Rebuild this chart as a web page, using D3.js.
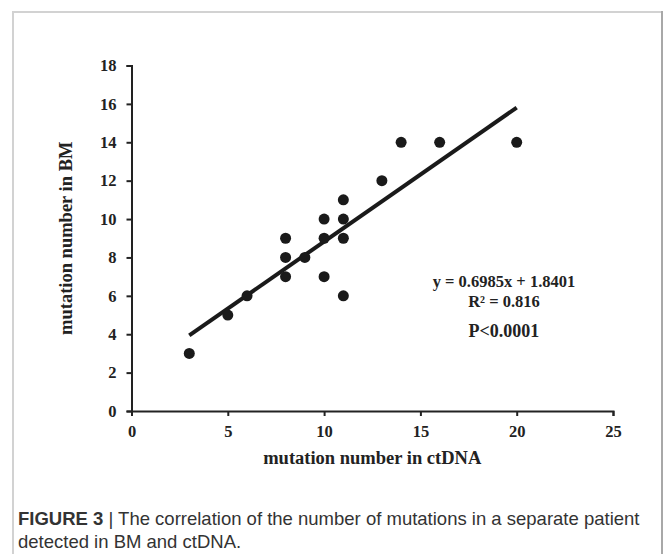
<!DOCTYPE html>
<html lang="en">
<head>
<meta charset="UTF-8">
<title>Mutation correlation</title>
<script src="https://d3js.org/d3.v7.min.js"></script>
<style>
  body { margin: 0; background: #fff; }
</style>
</head>
<body>
<div id="my_dataviz"></div>
<script>
// data
var ctDNA = [3, 5, 6, 8, 8, 8, 9, 10, 10, 10, 11, 11, 11, 11, 13, 14, 16, 20];
var bm    = [3, 5, 6, 7, 8, 9, 8, 7, 9, 10, 6, 9, 10, 11, 12, 14, 14, 14];
var xTicks = [0, 5, 10, 15, 20, 25];
var yTicks = [0, 2, 4, 6, 8, 10, 12, 14, 16, 18];
var slope = 0.6985, intercept = 1.8401;
var fitLabels = ["y = 0.6985x + 1.8401", "R\u00b2 = 0.816"];
var pLabel = "P<0.0001";
var captionLines = [
  ["FIGURE 3", " | The correlation of the number of mutations in a separate patient"],
  ["", "detected in BM and ctDNA."]
];

var W = 665, H = 554;
var margin = {top: 65.5, left: 131.5, right: W - 613, bottom: H - 411};

var svg = d3.select("#my_dataviz")
  .append("svg")
    .attr("width", W)
    .attr("height", H);

// figure frame
svg.append("path")
  .attr("d", "M13," + H + "V12H662")
  .attr("fill", "none")
  .attr("stroke", "#d2d2d2")
  .attr("stroke-width", 2);
svg.append("line")
  .attr("x1", 662).attr("x2", 662).attr("y1", 11).attr("y2", H)
  .attr("stroke", "#a8a8a8")
  .attr("stroke-width", 2);

var x = d3.scaleLinear().domain([0, 25]).range([margin.left, W - margin.right]);
var y = d3.scaleLinear().domain([0, 18]).range([H - margin.bottom, margin.top]);

var serif = "'Liberation Serif', 'Times New Roman', serif";

// X axis
var gx = svg.append("g")
  .attr("transform", "translate(0," + y(0) + ")")
  .call(d3.axisBottom(x).tickValues(xTicks).tickSize(5).tickPadding(9).tickSizeOuter(5));
// Y axis
var gy = svg.append("g")
  .attr("transform", "translate(" + x(0) + ",0)")
  .call(d3.axisLeft(y).tickValues(yTicks).tickSize(5).tickPadding(10).tickSizeOuter(5));

[gx, gy].forEach(function(g) {
  g.select(".domain").attr("stroke", "#222").attr("stroke-width", 2);
  g.selectAll(".tick line").attr("stroke", "#222").attr("stroke-width", 2);
  g.selectAll(".tick text")
    .attr("fill", "#222")
    .style("font-family", serif)
    .style("font-weight", "bold")
    .style("font-size", "16.5px");
});

// regression line
svg.append("line")
  .attr("x1", x(3)).attr("y1", y(slope * 3 + intercept))
  .attr("x2", x(20)).attr("y2", y(slope * 20 + intercept))
  .attr("stroke", "#1a1a1a")
  .attr("stroke-width", 4);

// dots
svg.append("g")
  .selectAll("circle")
  .data(ctDNA)
  .enter()
  .append("circle")
    .attr("cx", function(d) { return x(d); })
    .attr("cy", function(d, i) { return y(bm[i]); })
    .attr("r", 5.5)
    .attr("fill", "#1a1a1a");

// fit annotation
svg.append("g")
  .selectAll("text")
  .data(fitLabels)
  .enter()
  .append("text")
    .attr("x", 504)
    .attr("y", function(d, i) { return 287 + i * 20; })
    .attr("text-anchor", "middle")
    .attr("fill", "#222")
    .style("font-family", serif)
    .style("font-weight", "bold")
    .style("font-size", "16.5px")
    .text(function(d) { return d; });
svg.append("text")
  .attr("x", 504)
  .attr("y", 337)
  .attr("text-anchor", "middle")
  .attr("fill", "#222")
  .style("font-family", serif)
  .style("font-weight", "bold")
  .style("font-size", "18px")
  .text(pLabel);

// axis titles
svg.append("text")
  .attr("x", (x(0) + x(25)) / 2)
  .attr("y", 464)
  .attr("text-anchor", "middle")
  .attr("fill", "#222")
  .style("font-family", serif)
  .style("font-weight", "bold")
  .style("font-size", "18.5px")
  .text("mutation number in ctDNA");
svg.append("text")
  .attr("transform", "translate(72," + y(9) + ") rotate(-90)")
  .attr("text-anchor", "middle")
  .attr("fill", "#222")
  .style("font-family", serif)
  .style("font-weight", "bold")
  .style("font-size", "18.5px")
  .text("mutation number in BM");

// caption
var cap = svg.append("g")
  .selectAll("text")
  .data(captionLines)
  .enter()
  .append("text")
    .attr("x", 18)
    .attr("y", function(d, i) { return 525 + i * 23; })
    .attr("fill", "#333")
    .style("font-family", "'Liberation Sans', Arial, sans-serif")
    .style("font-size", "18.5px");
cap.append("tspan")
  .style("font-weight", "bold")
  .text(function(d) { return d[0]; });
cap.append("tspan")
  .text(function(d) { return d[1]; });
</script>
</body>
</html>
